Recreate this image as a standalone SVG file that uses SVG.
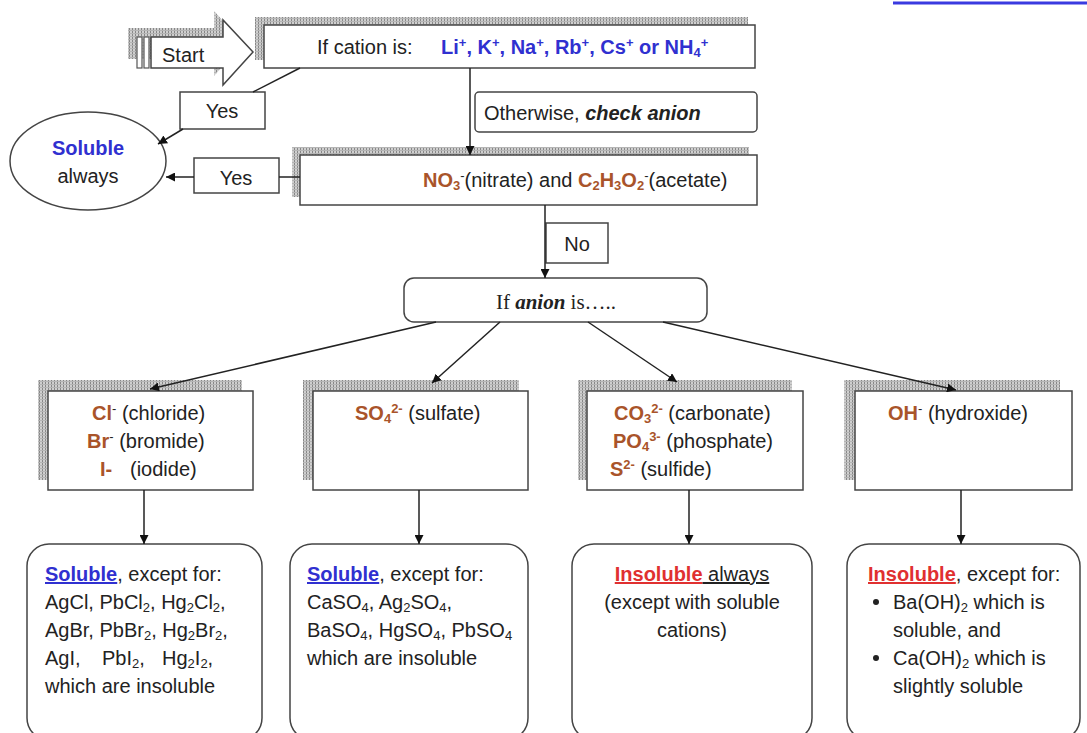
<svg xmlns="http://www.w3.org/2000/svg" width="1087" height="733" viewBox="0 0 1087 733">
<defs>
<pattern id="hatch" width="3" height="3" patternUnits="userSpaceOnUse">
<rect width="3" height="3" fill="#cfcfcf"/>
<rect width="1" height="3" fill="#888"/>
<rect width="3" height="1" fill="#b5b5b5"/>
</pattern>
<marker id="arr" viewBox="0 0 10 10" refX="10" refY="5" markerWidth="9" markerHeight="9" markerUnits="userSpaceOnUse" orient="auto">
<path d="M0,0 L10,5 L0,10 z" fill="#111"/>
</marker>
<style>
text{font-family:"Liberation Sans",Arial,sans-serif;font-size:20px;fill:#222}
.box{fill:#fff;stroke:#444;stroke-width:1.5}
.shadow{fill:url(#hatch)}
.conn{stroke:#222;stroke-width:1.5;fill:none}
.blue{fill:#3030d0;font-weight:bold}
.brown{fill:#a9542a;font-weight:bold}
.red{fill:#e03030;font-weight:bold}
.sup{font-size:13px;baseline-shift:7px}
.sub{font-size:13px;baseline-shift:-3px}
.serif{font-family:"Liberation Serif","Times New Roman",serif;font-size:21px}
</style>
</defs>
<rect width="1087" height="733" fill="#fff"/>
<line x1="893" y1="3" x2="1087" y2="3" stroke="#3a3ae0" stroke-width="3"/>

<g id="start">
<path class="shadow" d="M128,28 H214 V11 L243,43 L214,76 V59 H128 Z"/>
<rect x="137" y="37" width="5" height="31" fill="#fff" stroke="#555" stroke-width="1.2"/>
<rect x="144" y="37" width="5" height="31" fill="#fff" stroke="#555" stroke-width="1.2"/>
<path class="box" d="M151,37 H223 V20 L253,52 L223,85 V68 H151 Z"/>
<text x="162" y="62">Start</text>
</g>

<g id="cation">
<rect class="shadow" x="255" y="17" width="493" height="43"/>
<rect class="box" x="264" y="25" width="491" height="43"/>
<text x="317" y="54">If cation is:<tspan x="441" class="blue">Li<tspan class="sup">+</tspan>, K<tspan class="sup">+</tspan>, Na<tspan class="sup">+</tspan>, Rb<tspan class="sup">+</tspan>, Cs<tspan class="sup">+</tspan> or NH<tspan class="sub">4</tspan><tspan class="sup">+</tspan></tspan></text>
</g>

<g id="yes1">
<rect class="box" x="180" y="92" width="85" height="37"/>
<text x="222" y="118" text-anchor="middle">Yes</text>
</g>

<g id="soluble-always">
<ellipse class="box" cx="88" cy="161" rx="78" ry="49"/>
<text x="88" y="155" text-anchor="middle" class="blue">Soluble</text>
<text x="88" y="183" text-anchor="middle">always</text>
</g>

<g id="otherwise">
<rect class="box" x="475" y="92" width="282" height="40" rx="4"/>
<text x="484" y="120">Otherwise, <tspan font-weight="bold" font-style="italic">check anion</tspan></text>
</g>

<g id="nitrate">
<rect class="shadow" x="292" y="147" width="457" height="50"/>
<rect class="box" x="300" y="155" width="457" height="50"/>
<text x="423" y="187"><tspan class="brown">NO<tspan class="sub">3</tspan></tspan><tspan class="sup">-</tspan>(nitrate) and <tspan class="brown">C<tspan class="sub">2</tspan>H<tspan class="sub">3</tspan>O<tspan class="sub">2</tspan></tspan><tspan class="sup">-</tspan>(acetate)</text>
</g>

<g id="yes2">
<rect class="box" x="194" y="158" width="85" height="35"/>
<text x="236" y="185" text-anchor="middle">Yes</text>
</g>

<g id="no">
<rect class="box" x="546" y="223" width="62" height="40"/>
<text x="577" y="251" text-anchor="middle">No</text>
</g>

<g id="if-anion">
<rect class="box" x="404" y="278" width="303" height="44" rx="10"/>
<text x="556" y="309" text-anchor="middle" class="serif">If <tspan font-weight="bold" font-style="italic">anion</tspan> is…..</text>
</g>

<g id="halides">
<rect class="shadow" x="38" y="380" width="204" height="100"/>
<rect class="box" x="48" y="391" width="205" height="99"/>
<text x="92" y="420"><tspan class="brown">Cl</tspan><tspan class="sup">-</tspan> (chloride)</text>
<text x="87" y="448"><tspan class="brown">Br</tspan><tspan class="sup">-</tspan> (bromide)</text>
<text x="100" y="476"><tspan class="brown">I-</tspan><tspan x="130">(iodide)</tspan></text>
</g>

<g id="sulfate">
<rect class="shadow" x="303" y="380" width="216" height="100"/>
<rect class="box" x="313" y="391" width="215" height="99"/>
<text x="355" y="420"><tspan class="brown">SO<tspan class="sub">4</tspan><tspan class="sup">2-</tspan></tspan> (sulfate)</text>
</g>

<g id="carbonate">
<rect class="shadow" x="578" y="380" width="214" height="100"/>
<rect class="box" x="587" y="391" width="216" height="99"/>
<text x="614" y="420"><tspan class="brown">CO<tspan class="sub">3</tspan><tspan class="sup">2-</tspan></tspan> (carbonate)</text>
<text x="613" y="448"><tspan class="brown">PO<tspan class="sub">4</tspan><tspan class="sup">3-</tspan></tspan> (phosphate)</text>
<text x="610" y="476"><tspan class="brown">S<tspan class="sup">2-</tspan></tspan> (sulfide)</text>
</g>

<g id="hydroxide">
<rect class="shadow" x="844" y="380" width="216" height="100"/>
<rect class="box" x="855" y="391" width="217" height="99"/>
<text x="888" y="420"><tspan class="brown">OH</tspan><tspan class="sup">-</tspan> (hydroxide)</text>
</g>

<g id="halides-result">
<rect class="box" x="27" y="544" width="235" height="196" rx="22"/>
<text x="45" y="581"><tspan class="blue" text-decoration="underline">Soluble</tspan>, except for:</text>
<text x="45" y="609">AgCl, PbCl<tspan class="sub">2</tspan>, Hg<tspan class="sub">2</tspan>Cl<tspan class="sub">2</tspan>,</text>
<text x="45" y="637">AgBr, PbBr<tspan class="sub">2</tspan>, Hg<tspan class="sub">2</tspan>Br<tspan class="sub">2</tspan>,</text>
<text x="45" y="665">AgI,<tspan x="102">PbI<tspan class="sub">2</tspan>,</tspan><tspan x="162">Hg<tspan class="sub">2</tspan>I<tspan class="sub">2</tspan>,</tspan></text>
<text x="45" y="693">which are insoluble</text>
</g>

<g id="sulfate-result">
<rect class="box" x="290" y="544" width="238" height="196" rx="22"/>
<text x="307" y="581"><tspan class="blue" text-decoration="underline">Soluble</tspan>, except for:</text>
<text x="307" y="609">CaSO<tspan class="sub">4</tspan>, Ag<tspan class="sub">2</tspan>SO<tspan class="sub">4</tspan>,</text>
<text x="307" y="637">BaSO<tspan class="sub">4</tspan>, HgSO<tspan class="sub">4</tspan>, PbSO<tspan class="sub">4</tspan></text>
<text x="307" y="665">which are insoluble</text>
</g>

<g id="carbonate-result">
<rect class="box" x="572" y="544" width="240" height="196" rx="22"/>
<text x="692" y="581" text-anchor="middle"><tspan class="red" text-decoration="underline">Insoluble</tspan><tspan text-decoration="underline"> always</tspan></text>
<text x="692" y="609" text-anchor="middle">(except with soluble</text>
<text x="692" y="637" text-anchor="middle">cations)</text>
</g>

<g id="hydroxide-result">
<rect class="box" x="847" y="544" width="233" height="196" rx="22"/>
<text x="868" y="581"><tspan class="red" text-decoration="underline">Insoluble</tspan>, except for:</text>
<circle cx="876" cy="602" r="3" fill="#222"/>
<text x="893" y="609">Ba(OH)<tspan class="sub">2</tspan> which is</text>
<text x="893" y="637">soluble, and</text>
<circle cx="876" cy="658" r="3" fill="#222"/>
<text x="893" y="665">Ca(OH)<tspan class="sub">2</tspan> which is</text>
<text x="893" y="693">slightly soluble</text>
</g>

<g id="connectors">
<line class="conn" x1="300" y1="68" x2="253" y2="92"/>
<line class="conn" x1="183" y1="129" x2="158" y2="144" marker-end="url(#arr)"/>
<line class="conn" x1="470" y1="68" x2="470" y2="155" marker-end="url(#arr)"/>
<line class="conn" x1="300" y1="177" x2="279" y2="177"/>
<line class="conn" x1="194" y1="177" x2="166" y2="177" marker-end="url(#arr)"/>
<line class="conn" x1="545" y1="205" x2="545" y2="278" marker-end="url(#arr)"/>
<line class="conn" x1="436" y1="322" x2="150" y2="389" marker-end="url(#arr)"/>
<line class="conn" x1="500" y1="322" x2="432" y2="383" marker-end="url(#arr)"/>
<line class="conn" x1="588" y1="322" x2="677" y2="382" marker-end="url(#arr)"/>
<line class="conn" x1="663" y1="322" x2="956" y2="390" marker-end="url(#arr)"/>
<line class="conn" x1="144" y1="490" x2="144" y2="544" marker-end="url(#arr)"/>
<line class="conn" x1="419" y1="490" x2="419" y2="544" marker-end="url(#arr)"/>
<line class="conn" x1="689" y1="490" x2="689" y2="544" marker-end="url(#arr)"/>
<line class="conn" x1="961" y1="490" x2="961" y2="544" marker-end="url(#arr)"/>
</g>
</svg>
